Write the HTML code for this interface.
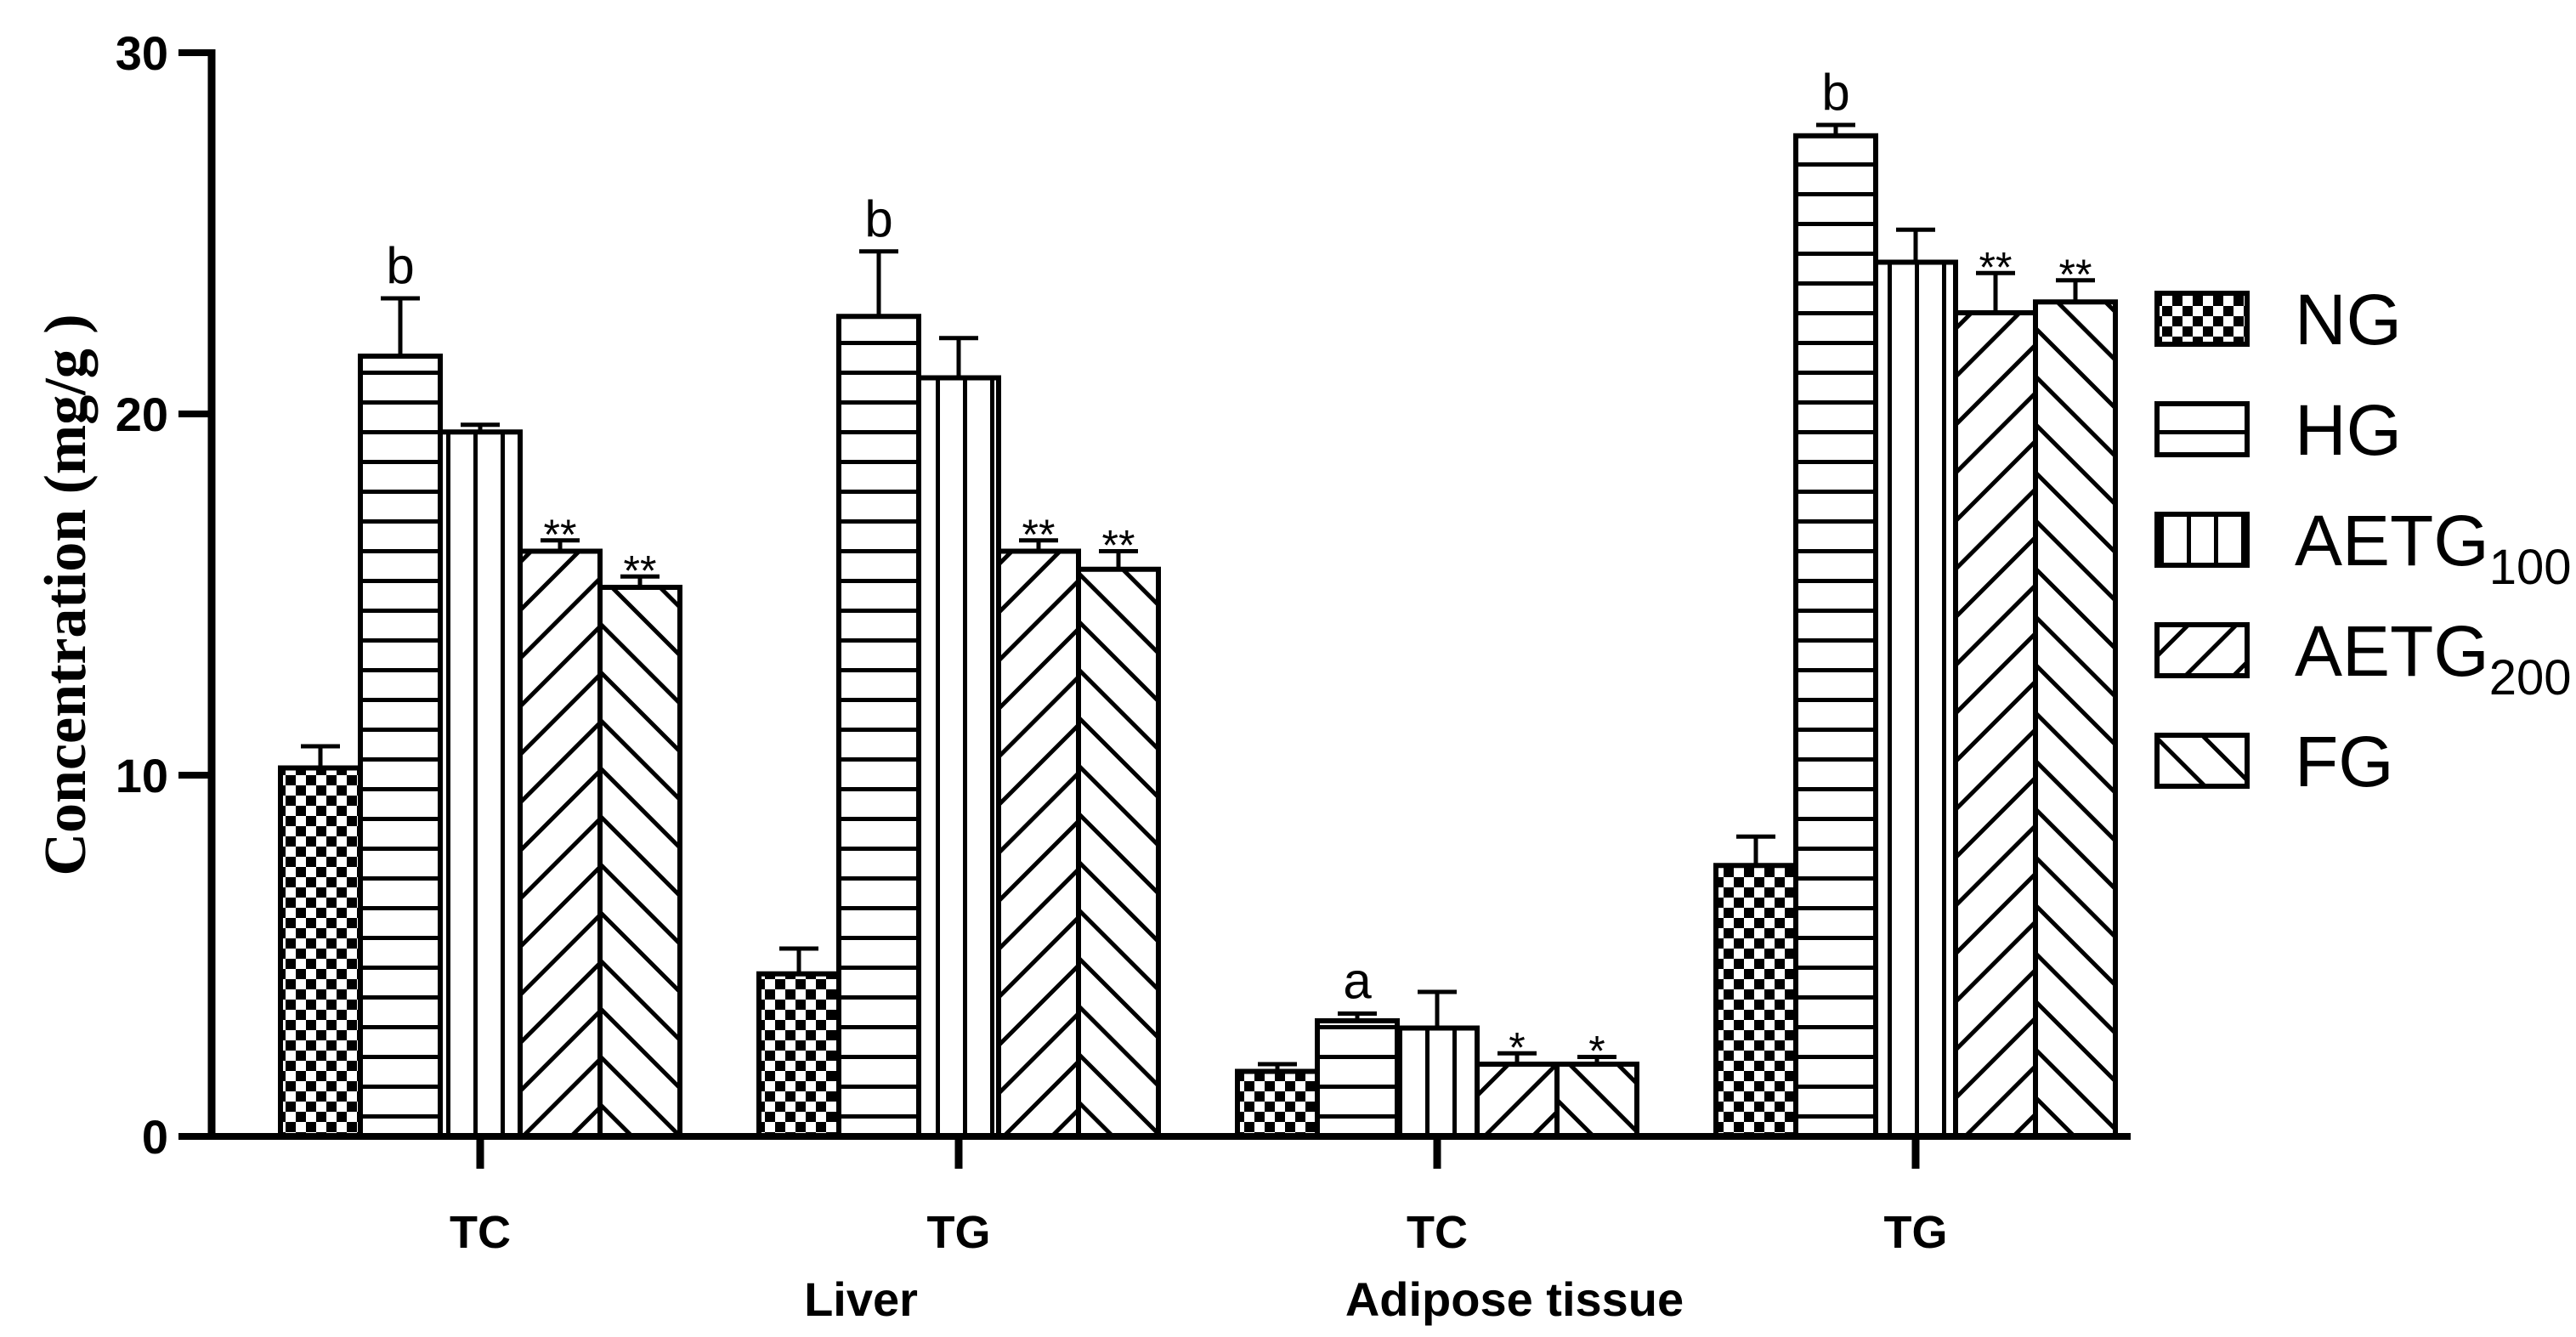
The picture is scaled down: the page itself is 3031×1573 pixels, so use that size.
<!DOCTYPE html>
<html><head><meta charset="utf-8"><style>
html,body{margin:0;padding:0;background:#fff;}
svg{display:block;}
</style></head><body>
<svg id="chart" width="3031" height="1573" viewBox="0 0 3031 1573" xmlns="http://www.w3.org/2000/svg">
<defs>
<pattern id="p-check" patternUnits="userSpaceOnUse" width="24" height="24"><rect width="24" height="24" fill="#fff"/><rect width="12" height="12" fill="#000"/><rect x="12" y="12" width="12" height="12" fill="#000"/></pattern>
<pattern id="p-horiz" patternUnits="userSpaceOnUse" width="40" height="35"><rect width="40" height="35" fill="#fff"/><rect y="16" width="40" height="5" fill="#000"/></pattern>
<pattern id="p-vert" patternUnits="userSpaceOnUse" width="32" height="40"><rect width="32" height="40" fill="#fff"/><rect x="13" width="5" height="40" fill="#000"/></pattern>
<pattern id="p-fwd" patternUnits="userSpaceOnUse" width="40" height="40" patternTransform="rotate(45)"><rect width="40" height="40" fill="#fff"/><rect x="18" width="5" height="40" fill="#000"/></pattern>
<pattern id="p-back" patternUnits="userSpaceOnUse" width="40" height="40" patternTransform="rotate(-45)"><rect width="40" height="40" fill="#fff"/><rect x="18" width="5" height="40" fill="#000"/></pattern>
</defs>
<g id="bars"></g>
<g id="axes"></g>
<g id="legend"></g>
</svg>
<script>
const groups = ["TC", "TG", "TC", "TG"];
const seriesNames = ["NG", "HG", "AETG100", "AETG200", "FG"];
const ngValues = [10.2, 4.5, 1.8, 7.5];
const hgValues = [21.6, 22.7, 3.2, 27.7];
const a100Values = [19.5, 21.0, 3.0, 24.2];
const a200Values = [16.2, 16.2, 2.0, 22.8];
const fgValues = [15.2, 15.7, 2.0, 23.1];
const ngErr = [0.6, 0.7, 0.2, 0.8];
const hgErr = [1.6, 1.8, 0.2, 0.3];
const a100Err = [0.2, 1.1, 1.0, 0.9];
const a200Err = [0.3, 0.3, 0.3, 1.1];
const fgErr = [0.3, 0.5, 0.2, 0.6];
const annotations = [["", "b", "", "**", "**"], ["", "b", "", "**", "**"], ["", "a", "", "*", "*"], ["", "b", "", "**", "**"]];
const yTicks = [0, 10, 20, 30];
const tissues = ["Liver", "Adipose tissue"];

const NS = "http://www.w3.org/2000/svg";
const X0 = 249, Y0 = 1337, YTOP = 62, YMAX = 30;
const yScale = v => Y0 - (v / YMAX) * (Y0 - YTOP);
const groupCenter = i => 565 + i * 563;
const BW = 94;
const barX = (g, s) => groupCenter(g) - 2.5 * BW + s * BW;
const fills = ["url(#p-check)", "url(#p-horiz)", "url(#p-vert)", "url(#p-fwd)", "url(#p-back)"];
const allVals = [ngValues, hgValues, a100Values, a200Values, fgValues];
const allErr = [ngErr, hgErr, a100Err, a200Err, fgErr];

function mk(tag, attrs, parent) {
  const e = document.createElementNS(NS, tag);
  for (const k in attrs) e.setAttribute(k, attrs[k]);
  parent.appendChild(e);
  return e;
}
const barsG = document.getElementById('bars');
const axesG = document.getElementById('axes');
const legG = document.getElementById('legend');

groups.forEach((gname, g) => {
  seriesNames.forEach((sname, s) => {
    const v = allVals[s][g], err = allErr[s][g];
    const x = barX(g, s), y = yScale(v), h = Y0 - y;
    const r = mk('rect', {x: x, y: y, width: BW, height: h, fill: fills[s], stroke: '#000', 'stroke-width': 6}, barsG);
    
    
    const cx = x + BW / 2, ye = yScale(v + err);
    const eb = mk('path', {d: `M${cx},${y} V${ye} M${cx - 23},${ye} H${cx + 23}`, stroke: '#000', 'stroke-width': 5, fill: 'none'}, barsG);
    
    
    const a = annotations[g][s];
    if (a) {
      const isStar = a.indexOf('*') >= 0;
      const t = mk('text', {x: cx, y: ye - (isStar ? -10 : 18), 'text-anchor': 'middle', 'font-family': 'Liberation Sans, sans-serif', 'font-size': isStar ? 50 : 60}, barsG);
      t.textContent = a;
      
      
    }
  });
});

// axes
const ya = mk('line', {x1: X0, y1: YTOP - 4, x2: X0, y2: Y0 + 4, stroke: '#000', 'stroke-width': 9}, axesG);


const xa = mk('line', {x1: X0, y1: Y0, x2: 2507, y2: Y0, stroke: '#000', 'stroke-width': 8}, axesG);


yTicks.forEach(v => {
  const y = yScale(v);
  const tk = mk('line', {x1: 210, y1: y, x2: X0, y2: y, stroke: '#000', 'stroke-width': 8}, axesG);
  
  
  const t = mk('text', {x: 198, y: y + 20, 'text-anchor': 'end', 'font-family': 'Liberation Sans, sans-serif', 'font-weight': 'bold', 'font-size': 56}, axesG);
  t.textContent = v;
  
  
});
groups.forEach((gname, g) => {
  const cx = groupCenter(g);
  const tk = mk('line', {x1: cx, y1: Y0, x2: cx, y2: 1375, stroke: '#000', 'stroke-width': 9}, axesG);
  
  
  const t = mk('text', {x: cx, y: 1468, 'text-anchor': 'middle', 'font-family': 'Liberation Sans, sans-serif', 'font-weight': 'bold', 'font-size': 54}, axesG);
  t.textContent = gname;
  
  
});
tissues.forEach((tn, i) => {
  const t = mk('text', {x: i === 0 ? 1013 : 1782, y: 1548, 'text-anchor': 'middle', 'font-family': 'Liberation Sans, sans-serif', 'font-weight': 'bold', 'font-size': 56}, axesG);
  t.textContent = tn;
  
  
});
const yt = mk('text', {x: 0, y: 0, transform: 'translate(100,700) rotate(-90)', 'text-anchor': 'middle', 'font-family': 'Liberation Serif, serif', 'font-weight': 'bold', 'font-size': 70}, axesG);
yt.textContent = 'Concentration (mg/g )';



// legend
const legLabels = [["NG", ""], ["HG", ""], ["AETG", "100"], ["AETG", "200"], ["FG", ""]];
legLabels.forEach((lab, i) => {
  const y = 345 + i * 130;
  const r = mk('rect', {x: 2538, y: y, width: 106, height: 60, fill: fills[i], stroke: '#000', 'stroke-width': 6}, legG);
  
  
  const t = mk('text', {x: 2700, y: y + 60, 'font-family': 'Liberation Sans, sans-serif', 'font-size': 84}, legG);
  
  
  t.appendChild(document.createTextNode(lab[0]));
  if (lab[1]) {
    const ts = mk('tspan', {dy: 22, 'font-size': 58}, t);
    ts.textContent = lab[1];
  }
});
</script>
</body></html>
